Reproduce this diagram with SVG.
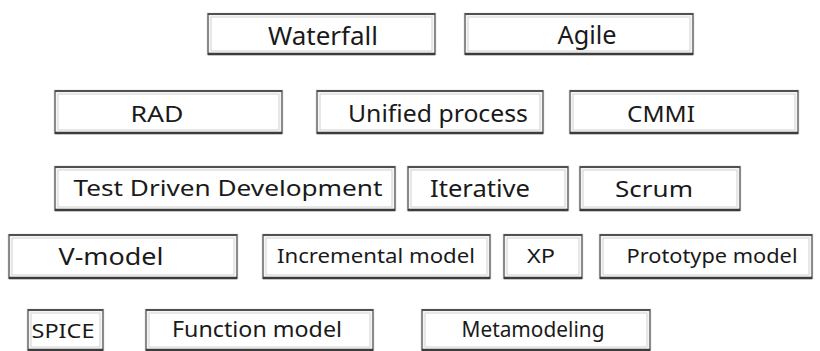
<svg xmlns="http://www.w3.org/2000/svg" width="820" height="351" viewBox="0 0 820 351">
<style>
  .o { fill: #ffffff; stroke: #8a8a8a; stroke-width: 2.2; }
  .i { fill: none; stroke: #cfcfcf; stroke-width: 1; }
  .t { stroke: #505050; stroke-width: 2; }
  .b { stroke: #3c3c3c; stroke-width: 2.6; }
  text { font-family: "Noto Sans", "Open Sans", sans-serif; fill: #1a1a1a; text-anchor: middle; }
</style>
<rect width="820" height="351" fill="#ffffff"/>
<g id="connectors"/>

<g id="waterfall">
  <rect class="o" x="208" y="14" width="227" height="40"/>
  <rect class="i" x="211" y="17" width="221" height="34"/>
  <line class="t" x1="208" y1="14" x2="435" y2="14"/>
  <line class="b" x1="208" y1="54" x2="435" y2="54"/>
  <text x="323" y="45" font-size="26" textLength="110" lengthAdjust="spacingAndGlyphs">Waterfall</text>
</g>
<g id="agile">
  <rect class="o" x="465" y="14" width="228" height="40"/>
  <rect class="i" x="468" y="17" width="222" height="34"/>
  <line class="t" x1="465" y1="14" x2="693" y2="14"/>
  <line class="b" x1="465" y1="54" x2="693" y2="54"/>
  <text x="587" y="44" font-size="26" textLength="59" lengthAdjust="spacingAndGlyphs">Agile</text>
</g>

<g id="rad">
  <rect class="o" x="55" y="91" width="227" height="42"/>
  <rect class="i" x="58" y="94" width="221" height="36"/>
  <line class="t" x1="55" y1="91" x2="282" y2="91"/>
  <line class="b" x1="55" y1="133" x2="282" y2="133"/>
  <text x="157" y="122" font-size="22" textLength="53" lengthAdjust="spacingAndGlyphs">RAD</text>
</g>
<g id="unified-process">
  <rect class="o" x="317" y="91" width="226" height="42"/>
  <rect class="i" x="320" y="94" width="220" height="36"/>
  <line class="t" x1="317" y1="91" x2="543" y2="91"/>
  <line class="b" x1="317" y1="133" x2="543" y2="133"/>
  <text x="438" y="122" font-size="23" textLength="180" lengthAdjust="spacingAndGlyphs">Unified process</text>
</g>
<g id="cmmi">
  <rect class="o" x="570" y="91" width="228" height="42"/>
  <rect class="i" x="573" y="94" width="222" height="36"/>
  <line class="t" x1="570" y1="91" x2="798" y2="91"/>
  <line class="b" x1="570" y1="133" x2="798" y2="133"/>
  <text x="661" y="122" font-size="21" textLength="68" lengthAdjust="spacingAndGlyphs">CMMI</text>
</g>

<g id="tdd">
  <rect class="o" x="55" y="167" width="340" height="43"/>
  <rect class="i" x="58" y="170" width="334" height="37"/>
  <line class="t" x1="55" y1="167" x2="395" y2="167"/>
  <line class="b" x1="55" y1="210" x2="395" y2="210"/>
  <text x="228" y="196" font-size="22" textLength="309" lengthAdjust="spacingAndGlyphs">Test Driven Development</text>
</g>
<g id="iterative">
  <rect class="o" x="408" y="167" width="160" height="43"/>
  <rect class="i" x="411" y="170" width="154" height="37"/>
  <line class="t" x1="408" y1="167" x2="568" y2="167"/>
  <line class="b" x1="408" y1="210" x2="568" y2="210"/>
  <text x="480" y="197" font-size="23" textLength="100" lengthAdjust="spacingAndGlyphs">Iterative</text>
</g>
<g id="scrum">
  <rect class="o" x="580" y="167" width="160" height="43"/>
  <rect class="i" x="583" y="170" width="154" height="37"/>
  <line class="t" x1="580" y1="167" x2="740" y2="167"/>
  <line class="b" x1="580" y1="210" x2="740" y2="210"/>
  <text x="654" y="197" font-size="22" textLength="78" lengthAdjust="spacingAndGlyphs">Scrum</text>
</g>

<g id="v-model">
  <rect class="o" x="9" y="235" width="228" height="43"/>
  <rect class="i" x="12" y="238" width="222" height="37"/>
  <line class="t" x1="9" y1="235" x2="237" y2="235"/>
  <line class="b" x1="9" y1="278" x2="237" y2="278"/>
  <text x="111" y="265" font-size="24" textLength="105" lengthAdjust="spacingAndGlyphs">V-model</text>
</g>
<g id="incremental-model">
  <rect class="o" x="263" y="235" width="227" height="43"/>
  <rect class="i" x="266" y="238" width="221" height="37"/>
  <line class="t" x1="263" y1="235" x2="490" y2="235"/>
  <line class="b" x1="263" y1="278" x2="490" y2="278"/>
  <text x="376" y="263" font-size="19" textLength="198" lengthAdjust="spacingAndGlyphs">Incremental model</text>
</g>
<g id="xp">
  <rect class="o" x="504" y="235" width="78" height="43"/>
  <rect class="i" x="507" y="238" width="72" height="37"/>
  <line class="t" x1="504" y1="235" x2="582" y2="235"/>
  <line class="b" x1="504" y1="278" x2="582" y2="278"/>
  <text x="541" y="263" font-size="20" textLength="28" lengthAdjust="spacingAndGlyphs">XP</text>
</g>
<g id="prototype-model">
  <rect class="o" x="600" y="235" width="212" height="43"/>
  <rect class="i" x="603" y="238" width="206" height="37"/>
  <line class="t" x1="600" y1="235" x2="812" y2="235"/>
  <line class="b" x1="600" y1="278" x2="812" y2="278"/>
  <text x="712" y="263" font-size="19" textLength="171" lengthAdjust="spacingAndGlyphs">Prototype model</text>
</g>

<g id="spice">
  <rect class="o" x="28" y="310" width="75" height="40"/>
  <rect class="i" x="31" y="313" width="69" height="34"/>
  <line class="t" x1="28" y1="310" x2="103" y2="310"/>
  <line class="b" x1="28" y1="350" x2="103" y2="350"/>
  <text x="63" y="338" font-size="20" textLength="63" lengthAdjust="spacingAndGlyphs">SPICE</text>
</g>
<g id="function-model">
  <rect class="o" x="146" y="310" width="227" height="40"/>
  <rect class="i" x="149" y="313" width="221" height="34"/>
  <line class="t" x1="146" y1="310" x2="373" y2="310"/>
  <line class="b" x1="146" y1="350" x2="373" y2="350"/>
  <text x="257" y="337" font-size="21" textLength="170" lengthAdjust="spacingAndGlyphs">Function model</text>
</g>
<g id="metamodeling">
  <rect class="o" x="422" y="310" width="228" height="40"/>
  <rect class="i" x="425" y="313" width="222" height="34"/>
  <line class="t" x1="422" y1="310" x2="650" y2="310"/>
  <line class="b" x1="422" y1="350" x2="650" y2="350"/>
  <text x="533" y="337" font-size="21" textLength="143" lengthAdjust="spacingAndGlyphs">Metamodeling</text>
</g>
</svg>
